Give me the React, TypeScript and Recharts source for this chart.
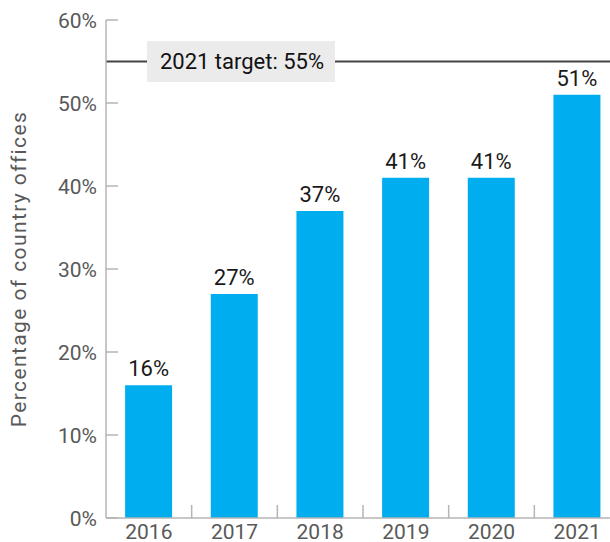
import React from 'react';
import { BarChart, Bar, XAxis, YAxis, ReferenceLine, LabelList } from 'recharts';

const years = ['2016', '2017', '2018', '2019', '2020', '2021'];
const shares = [16, 27, 37, 41, 41, 51];
const yTicks = [0, 10, 20, 30, 40, 50, 60];
const target = 55;
const targetLabel = '2021 target: 55%';

const data = years.map((year, i) => ({ year, share: shares[i] }));

const FONT = 'Roboto, "Noto Sans", sans-serif';

const YTick = (props: any) => {
  const { x, y, payload } = props;
  return (
    <g>
      <line x1={x} x2={x + 12} y1={y} y2={y} stroke="#b5b5b5" strokeWidth={1.5} />
      <text x={x - 9} y={y + 7.5} textAnchor="end" fill="#595959" fontSize={21} fontFamily={FONT}>
        {payload.value}%
      </text>
    </g>
  );
};

const XTick = (props: any) => {
  const { x, y, payload, index } = props;
  const half = payload.offset || 42.8;
  return (
    <g>
      {index > 0 && (
        <line x1={x - half} x2={x - half} y1={y} y2={y - 13} stroke="#b5b5b5" strokeWidth={1.5} />
      )}
      <text x={x} y={y + 21} textAnchor="middle" fill="#595959" fontSize={21} fontFamily={FONT}>
        {payload.value}
      </text>
    </g>
  );
};

const TargetLabel = (props: any) => {
  const vb = props.viewBox || {};
  const bx = vb.x + 41;
  const by = vb.y;
  return (
    <g>
      <rect x={bx} y={by - 20.5} width={188} height={41} fill="#ebebeb" />
      <text x={bx + 95} y={by + 7.5} textAnchor="middle" fill="#111" fontSize={22} fontFamily={FONT}>
        {targetLabel}
      </text>
    </g>
  );
};

export default function App() {
  return (
    <div style={{ position: 'fixed', left: 0, top: 0, width: 610, height: 542, overflow: 'hidden', background: '#fff' }}>
      <BarChart
        width={620}
        height={542}
        data={data}
        margin={{ top: 20, right: 0, left: 0, bottom: 0 }}
        barCategoryGap="22.3%"
      >
        <XAxis
          dataKey="year"
          height={24}
          tickSize={0}
          tickMargin={0}
          tickLine={false}
          axisLine={{ stroke: '#b5b5b5', strokeWidth: 1.5 }}
          tick={<XTick />}
          interval={0}
        />
        <YAxis
          width={106}
          domain={[0, 60]}
          ticks={yTicks}
          interval={0}
          tickSize={0}
          tickMargin={0}
          tickLine={false}
          axisLine={{ stroke: '#b5b5b5', strokeWidth: 1.5 }}
          tick={<YTick />}
          label={{
            value: 'Percentage of country offices',
            angle: -90,
            position: 'insideLeft',
            dx: 14,
            dy: 0,
            style: { textAnchor: 'middle', fill: '#595959', fontSize: 21, letterSpacing: 1.4, fontFamily: FONT },
          }}
        />
        <ReferenceLine y={target} stroke="#444" strokeWidth={2} label={<TargetLabel />} />
        <Bar dataKey="share" fill="#00aeef" isAnimationActive={false}>
          <LabelList
            dataKey="share"
            position="top"
            offset={9}
            formatter={(v: any) => `${v}%`}
            style={{ fill: '#1a1a1a', fontSize: 22, fontFamily: FONT }}
          />
        </Bar>
      </BarChart>
    </div>
  );
}
